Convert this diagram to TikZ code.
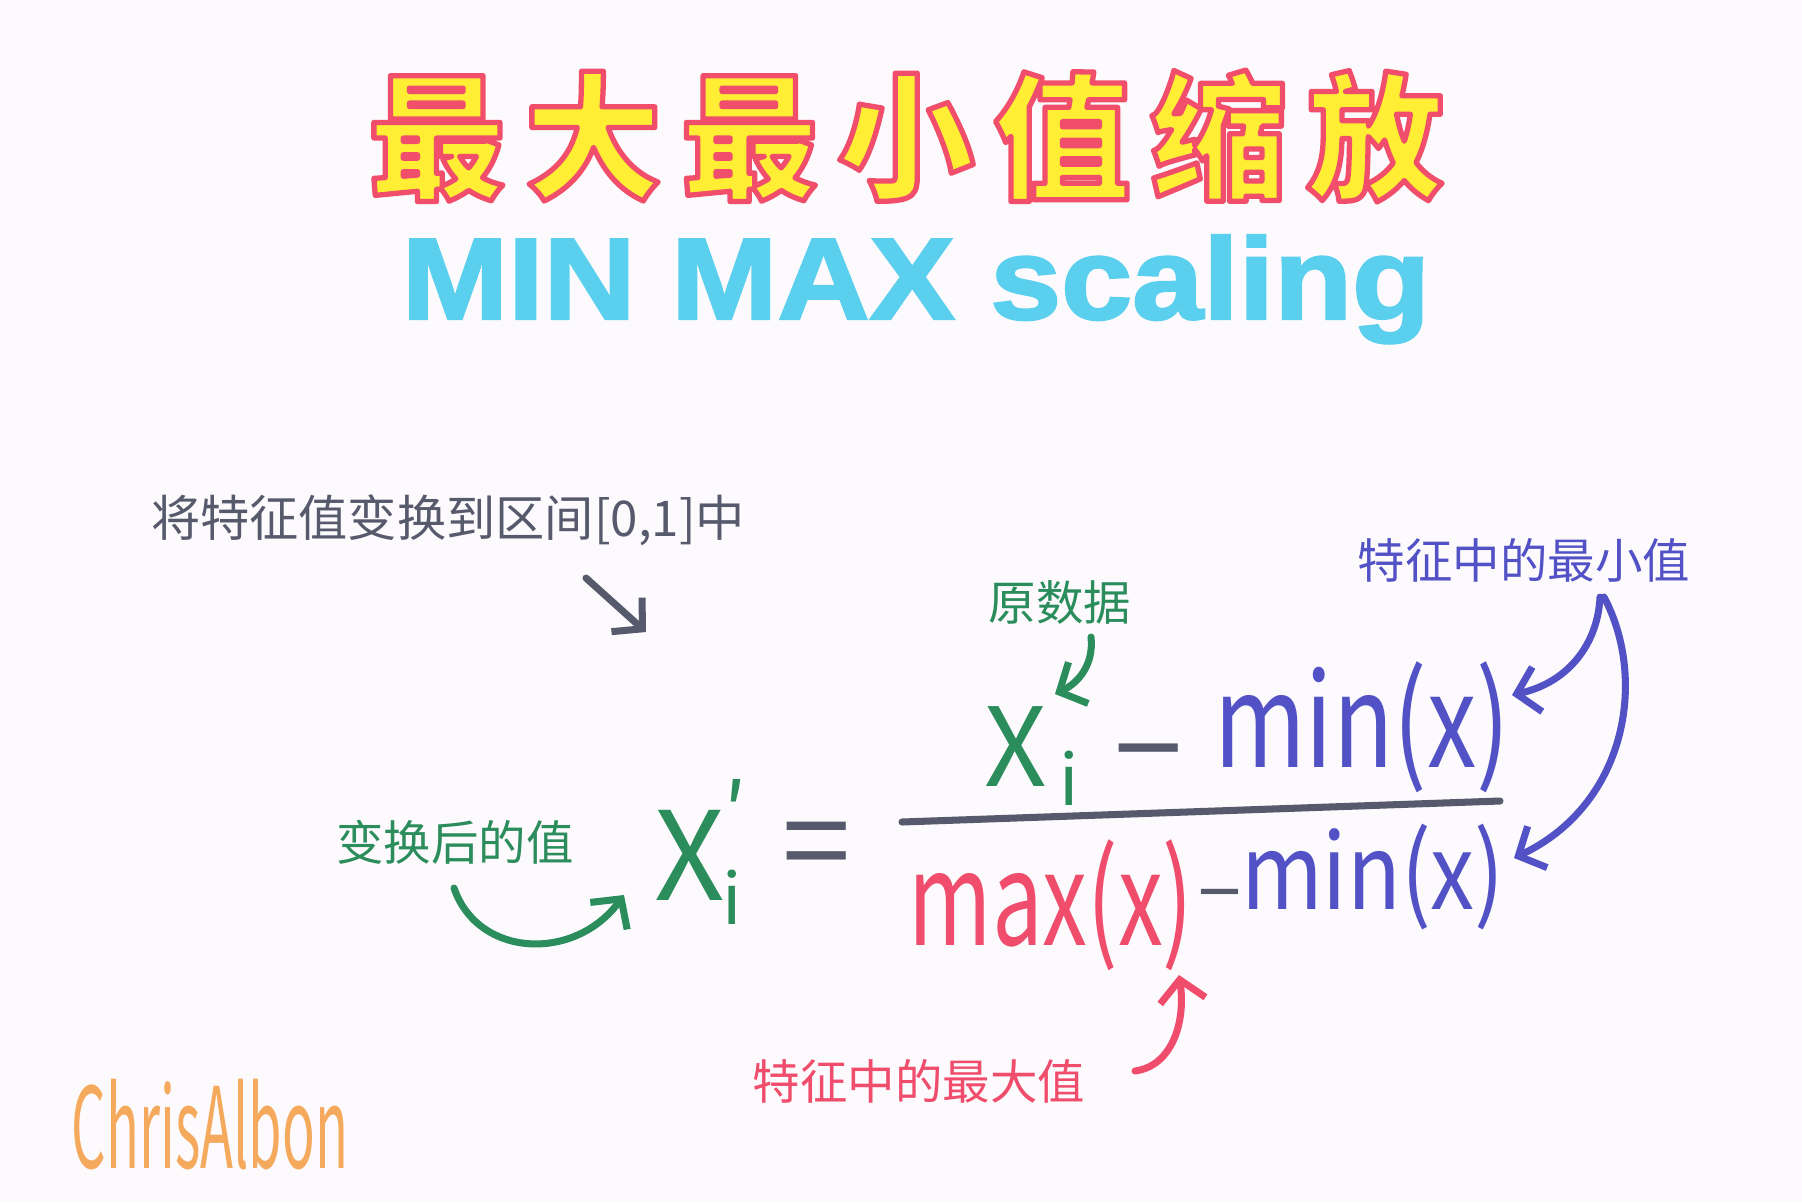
\documentclass[tikz,border=0pt]{standalone}
\usepackage{fontspec}
\setmainfont{Noto Sans CJK SC}
\newfontfamily\titlefont[LetterSpace=14]{Noto Sans CJK SC}
\newfontfamily\heavyfont[FakeBold=2]{Liberation Sans}
\usetikzlibrary{arrows.meta}

\definecolor{paper}{HTML}{FCFAFD}
\definecolor{titlered}{HTML}{F04E6A}
\definecolor{titleyellow}{HTML}{FFEE33}
\definecolor{subcyan}{HTML}{5BCFEE}
\definecolor{inkgray}{HTML}{575A6C}
\definecolor{inkgreen}{HTML}{2B8C5C}
\definecolor{inkblue}{HTML}{5252C6}
\definecolor{inkred}{HTML}{F04C6C}
\definecolor{inkorange}{HTML}{F4A95C}

% outlined letters: fill in the text colour, stroke in red
\newcommand{\outlined}[1]{\special{pdf:literal direct 2 Tr 1.5 w 1 j 0.941 0.306 0.416 RG}#1\special{pdf:literal direct 0 Tr}}

\tikzset{
  every node/.style={inner sep=0pt},
  pen/.style={line width=2pt, line cap=round,
    -{Straight Barb[length=6pt,width=13pt,line width=2pt]}},
  note/.style={font=\fontsize{13.5}{16}\selectfont},
  big/.style={font=\fontsize{32}{36}\selectfont},
}

\begin{document}
\begin{tikzpicture}[x=0.01cm, y=-0.01cm]
\useasboundingbox[fill=paper] (0,0) rectangle (1802,1202);

% title lines
\node[text=titleyellow, font=\titlefont\bfseries\fontsize{39}{44}\selectfont] (title) at (906,136)
  {\outlined{最大最小值缩放}};
\node[text=subcyan, font=\heavyfont\bfseries\fontsize{33}{38}\selectfont, anchor=base] (sub) at (916,319)
  {\scalebox{1.1}[1]{MIN MAX scaling}};

% the formula
\node[text=inkgreen, font=\fontsize{35}{40}\selectfont] (xnew) at (690,855) {X};
\node[text=inkgreen, font=\fontsize{20}{24}\selectfont] (xnewi) at (732,897) {i};
\node[text=inkgreen, font=\fontsize{24}{28}\selectfont] (prime) at (735,812) {′};
\node[text=inkgray, font=\fontsize{35}{40}\selectfont] (eq) at (817,854) {=};

\node[text=inkgreen, font=\fontsize{31}{36}\selectfont] (xold) at (1016,747) {X};
\node[text=inkgreen, font=\fontsize{20}{24}\selectfont] (xoldi) at (1069,778) {i};
\node[text=inkgray, font=\fontsize{35}{40}\selectfont] (minus) at (1149,769) {−};
\node[text=inkblue, big] (mintop) at (1362,727) {\scalebox{0.88}[1.15]{min(x)}};

\coordinate (barl) at (902,822);
\coordinate (barr) at (1500,801);
\draw[inkgray, line width=2pt, line cap=round] (barl) -- (barr);

\node[text=inkred, big] (maxbot) at (1051,905) {\scalebox{0.8}[1.15]{max(x)}};
\node[text=inkgray, font=\fontsize{22}{26}\selectfont] (minusbot) at (1220,905) {−};
\node[text=inkblue, font=\fontsize{27}{32}\selectfont] (minbot) at (1373,877) {\scalebox{0.93}[1.1]{min(x)}};

% notes
\node[text=inkgray, font=\fontsize{14}{17}\selectfont] (task) at (448,520) {将特征值变换到区间[0,1]中};
\node[text=inkgreen, note] (orig) at (1060,602) {原数据};
\node[text=inkblue, note] (minnote) at (1524,560) {特征中的最小值};
\node[text=inkgreen, note] (newnote) at (455,842) {变换后的值};
\node[text=inkred, note] (maxnote) at (919,1081) {特征中的最大值};

% arrows
\coordinate (t1) at (586,578);
\coordinate (t2) at (646,632);
\draw[pen, inkgray] (t1) -- (t2);

\coordinate (o1) at (1091,637);
\coordinate (o2) at (1055,694);
\draw[pen, inkgreen] (o1) .. controls (1094,665) and (1078,683) .. (o2);

\coordinate (m1) at (1600,597);
\coordinate (m2) at (1512,695);
\draw[pen, inkblue] (m1) .. controls (1598,642) and (1570,682) .. (m2);

\coordinate (m3) at (1604,597);
\coordinate (m4) at (1514,858);
\draw[pen, inkblue] (m3) .. controls (1648,680) and (1626,805) .. (m4);

\coordinate (n1) at (454,888);
\coordinate (n2) at (624,895);
\draw[pen, inkgreen] (n1) .. controls (478,958) and (575,962) .. (n2);

\coordinate (x1) at (1135,1071);
\coordinate (x2) at (1179,975);
\draw[pen, inkred] (x1) .. controls (1172,1066) and (1186,1022) .. (x2);

% signature
\node[text=inkorange, font=\fontsize{22}{26}\selectfont] (sign) at (210,1125)
  {\scalebox{0.7}[1.45]{ChrisAlbon}};
\end{tikzpicture}
\end{document}
